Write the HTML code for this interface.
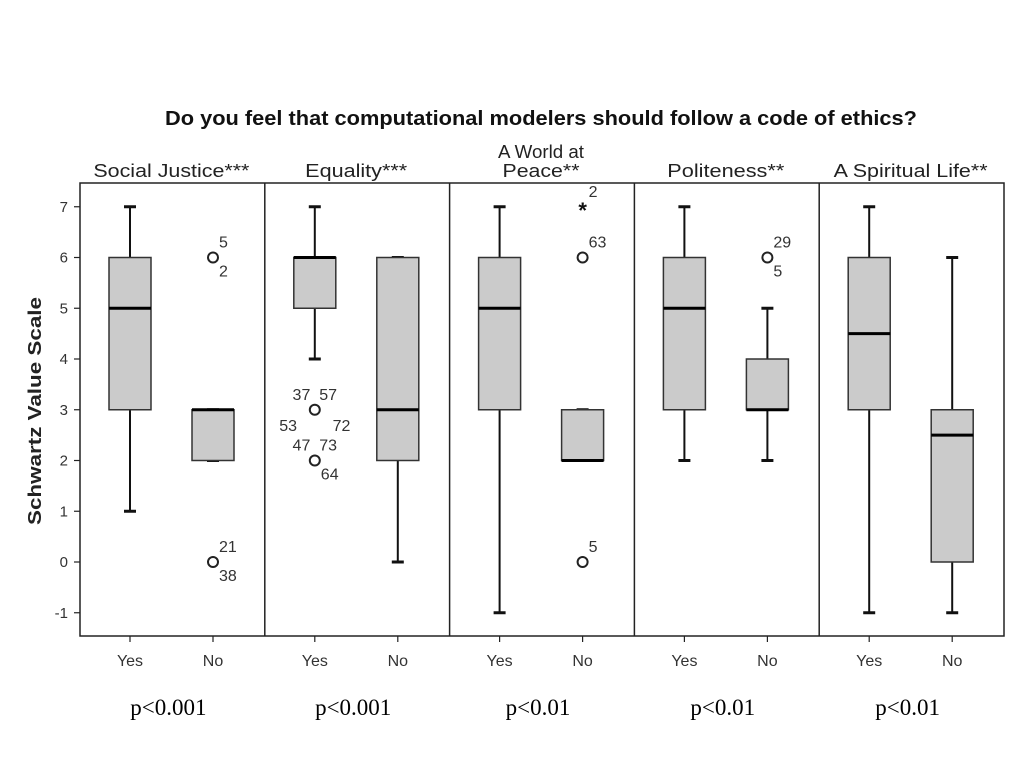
<!DOCTYPE html>
<html><head><meta charset="utf-8"><style>
body{margin:0;background:#fff;}
svg{display:block;font-family:"Liberation Sans",Arial,sans-serif;}
</style></head><body>
<svg id="chart" width="1024" height="768" viewBox="0 0 1024 768">
<text x="541" y="125" text-anchor="middle" font-size="20" font-weight="bold" fill="#111" textLength="752" lengthAdjust="spacingAndGlyphs">Do you feel that computational modelers should follow a code of ethics?</text>
<text transform="translate(41,411) rotate(-90)" text-anchor="middle" font-size="18" font-weight="bold" fill="#222" textLength="228" lengthAdjust="spacingAndGlyphs">Schwartz Value Scale</text>
<g id="plot"></g>
</svg>
<script>
const panels=["Social Justice***","Equality***","A World at|Peace**","Politeness**","A Spiritual Life**"];
const pvalues=["p<0.001","p<0.001","p<0.01","p<0.01","p<0.01"];
const groups=["Yes","No"];
const yesStats=[[1,3,5,6,7],[4,5,6,6,7],[-1,3,5,6,7],[2,3,5,6,7],[-1,3,4.5,6,7]];
const noStats=[[2,2,3,3,3],[0,2,3,6,6],[2,2,2,3,3],[2,3,3,4,5],[-1,0,2.5,3,6]];
const outlierPanel=[0,0,1,1,2,2,2,3];
const outlierGroup=[1,1,0,0,1,1,1,1];
const outlierValue=[6,0,3,2,7,6,0,6];
const outlierStar=[0,0,0,0,1,0,0,0];
const outlierLabelsAbove=["5","21","37  57","47  73","2","63","5","29"];
const outlierLabelsBelow=["2","38","53        72","64","","","","5"];
const yTicks=[-1,0,1,2,3,4,5,6,7];
const titleWidths=[[156],[102],[86,77],[117],[154]];

const NS="http://www.w3.org/2000/svg";
const g=document.getElementById('plot');
const X0=80,X1=1004,Y0=183,Y1=636,PW=(X1-X0)/panels.length;
const y=v=>562-v*50.75;
const gx=(p,k)=>X0+p*PW+(k===0?50:133);
function el(t,a,parent){const e=document.createElementNS(NS,t);for(const k in a)e.setAttribute(k,a[k]);(parent||g).appendChild(e);return e;}

const frame=el('rect',{x:X0,y:Y0,width:X1-X0,height:Y1-Y0,fill:'none',stroke:'#222','stroke-width':1.5});



yTicks.forEach(v=>{
  const t=el('line',{x1:X0-6,x2:X0,y1:y(v),y2:y(v),stroke:'#222','stroke-width':1.2});
  
  
  const l=el('text',{x:X0-12,y:y(v)+5,'text-anchor':'end','font-size':15,fill:'#333'});
  l.textContent=v;
  
  
});

function drawBox(p,k,s){
  const cx=gx(p,k),w=21;
  const grp=el('g',{});
  
  
  el('line',{x1:cx,x2:cx,y1:y(s[4]),y2:y(s[3]),stroke:'#111','stroke-width':2},grp);
  el('line',{x1:cx,x2:cx,y1:y(s[1]),y2:y(s[0]),stroke:'#111','stroke-width':2},grp);
  el('line',{x1:cx-6,x2:cx+6,y1:y(s[4]),y2:y(s[4]),stroke:'#111','stroke-width':3},grp);
  el('line',{x1:cx-6,x2:cx+6,y1:y(s[0]),y2:y(s[0]),stroke:'#111','stroke-width':3},grp);
  el('rect',{x:cx-w,y:y(s[3]),width:2*w,height:Math.max(y(s[1])-y(s[3]),0.5),fill:'#cbcbcb',stroke:'#333','stroke-width':1.5},grp);
  el('line',{x1:cx-w,x2:cx+w,y1:y(s[2]),y2:y(s[2]),stroke:'#000','stroke-width':3},grp);
}

panels.forEach((name,p)=>{
  const px=X0+p*PW;
  if(p>0){const d=el('line',{x1:px,x2:px,y1:Y0,y2:Y1,stroke:'#222','stroke-width':1.5});
    
    }
  const lines=name.split('|');
  lines.forEach((ln,i)=>{
    const t=el('text',{x:px+PW/2-1,y:Y0-6-(lines.length-1-i)*19,'text-anchor':'middle','font-size':18,fill:'#222',textLength:titleWidths[p][i],lengthAdjust:'spacingAndGlyphs'});
    t.textContent=ln;
    
    
  });
  drawBox(p,0,yesStats[p]);drawBox(p,1,noStats[p]);
  groups.forEach((gname,k)=>{
    const cx=gx(p,k);
    const tk=el('line',{x1:cx,x2:cx,y1:Y1,y2:Y1+6,stroke:'#222','stroke-width':1.2});
    
    
    const t=el('text',{x:cx,y:Y1+30,'text-anchor':'middle','font-size':16,fill:'#333'});
    t.textContent=gname;
    
    
  });
  const pv=el('text',{x:px+PW/2-4,y:715,'text-anchor':'middle','font-size':23,fill:'#000','font-family':'Liberation Serif, serif'});
  pv.textContent=pvalues[p];
  
  
});

outlierValue.forEach((v,i)=>{
  const cx=gx(outlierPanel[i],outlierGroup[i]),cy=y(v);
  if(outlierStar[i]){
    const s=el('text',{x:cx,y:cy+11,'text-anchor':'middle','font-size':22,'font-weight':'bold',fill:'#111'});
    s.textContent='*';
    
    
  } else {
    const c=el('circle',{cx:cx,cy:cy,r:5,fill:'#fff',stroke:'#222','stroke-width':2});
    
    
  }
  const lab=outlierLabelsAbove[i];
  if(lab){
    const centered=lab.indexOf(' ')>=0;
    const t=el('text',{x:centered?cx:cx+6,y:cy-10,'text-anchor':centered?'middle':'start','font-size':16,fill:'#333'});
    t.textContent=lab;
    t.style.whiteSpace='pre';
    
    
  }
  const lb=outlierLabelsBelow[i];
  if(lb){
    const centered=lb.indexOf(' ')>=0;
    const t=el('text',{x:centered?cx:cx+6,y:centered?cy+21:cy+19,'text-anchor':centered?'middle':'start','font-size':16,fill:'#333'});
    t.textContent=lb;
    t.style.whiteSpace='pre';
    
    
  }
});
</script>
</body></html>
